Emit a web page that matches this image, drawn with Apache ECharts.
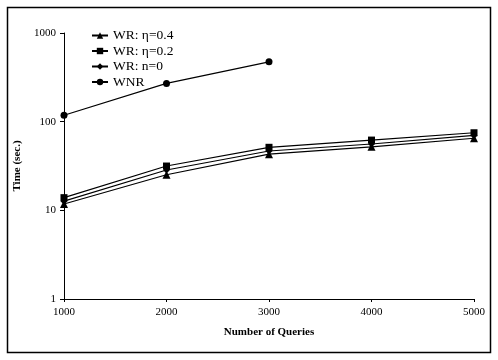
<!DOCTYPE html>
<html>
<head>
<meta charset="utf-8">
<script src="https://cdn.jsdelivr.net/npm/echarts@6/dist/echarts.min.js"></script>
<style>html,body{margin:0;padding:0;background:#fff}#c{width:498px;height:360px}</style>
</head>
<body>
<div id="c"></div>
<script>
var queries = [1000, 2000, 3000, 4000, 5000];
var seriesNames = ['WR: \u03b7=0.4', 'WR: \u03b7=0.2', 'WR: n=0', 'WNR'];
var wrEta04 = [11.8, 25.2, 43, 52, 65];
var wrEta02 = [13.9, 31.6, 51.4, 62, 75];
var wrN0 = [12.7, 28.5, 46.7, 56, 70];
var wnr = [118, 270, 473];
var symbols = ['triangle', 'rect', 'diamond', 'circle'];
var symbolSizes = [8, 7, 7, 7];
var allValues = [wrEta04, wrEta02, wrN0, wnr];

var font = 'Liberation Serif, Times New Roman, serif';
var chart = echarts.init(document.getElementById('c'), null, {renderer: 'canvas'});
var series = seriesNames.map(function (n, i) {
  return {
    name: n,
    type: 'line',
    data: allValues[i].map(function (v, j) { return [queries[j], v]; }),
    symbol: symbols[i],
    symbolSize: symbolSizes[i],
    lineStyle: {color: '#000', width: 1.2},
    itemStyle: {color: '#000'},
    emphasis: {disabled: true},
    animation: false
  };
});
chart.setOption({
  animation: false,
  graphic: [{
    type: 'rect', shape: {x: 7.5, y: 7.5, width: 483, height: 345},
    style: {fill: 'none', stroke: '#000', lineWidth: 1.5}, z: 100
  }],
  grid: {left: 64, right: 24, top: 33, bottom: 61},
  legend: {
    orient: 'vertical', left: 86, top: 23,
    itemWidth: 16, itemHeight: 8, itemGap: 0.5,
    textStyle: {fontFamily: font, fontSize: 13.5, color: '#000', lineHeight: 15},
    data: seriesNames
  },
  xAxis: {
    type: 'value', min: 1000, max: 5000, interval: 1000,
    name: 'Number of Queries', nameLocation: 'middle', nameGap: 28,
    nameTextStyle: {fontFamily: font, fontSize: 11, fontWeight: 'bold', color: '#000'},
    axisLine: {lineStyle: {color: '#000', width: 1}},
    axisTick: {inside: false, length: 3, lineStyle: {color: '#000'}},
    axisLabel: {fontFamily: font, fontSize: 11, color: '#000', margin: 8,
      formatter: function (v) { return String(v); }},
    splitLine: {show: false}
  },
  yAxis: {
    type: 'log', logBase: 10, min: 1, max: 1000,
    name: 'Time (sec.)', nameLocation: 'middle', nameGap: 31, nameRotate: 90,
    nameTextStyle: {fontFamily: font, fontSize: 11, fontWeight: 'bold', color: '#000'},
    axisLine: {show: true, lineStyle: {color: '#000', width: 1}},
    axisTick: {show: true, length: 4, lineStyle: {color: '#000'}},
    axisLabel: {fontFamily: font, fontSize: 11, color: '#000', margin: 8,
      formatter: function (v) { return String(Math.round(v)); }},
    minorTick: {show: false},
    splitLine: {show: false}
  },
  series: series
});
</script>
</body>
</html>
